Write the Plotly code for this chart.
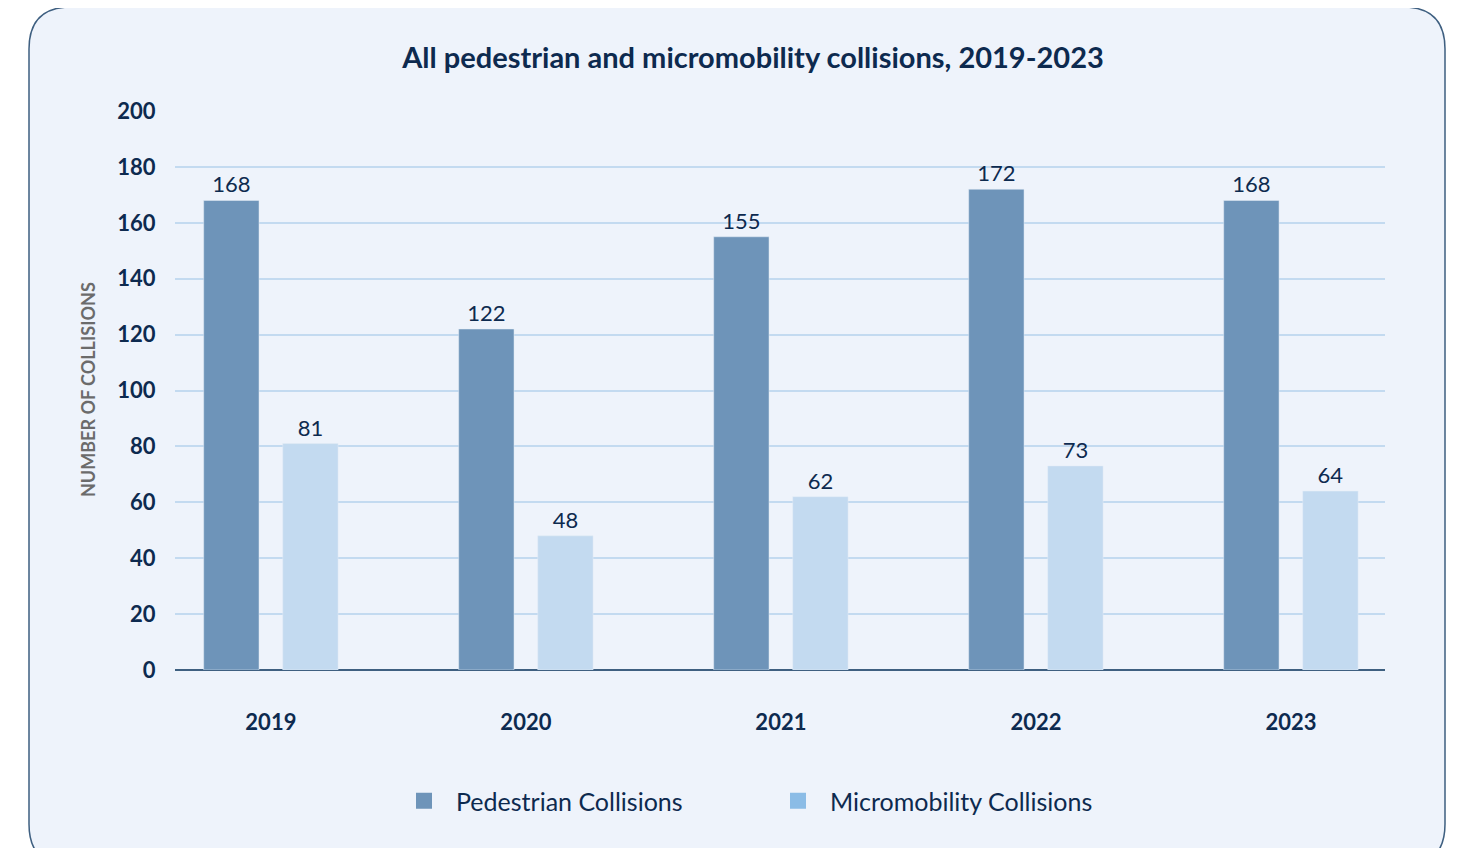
import plotly.graph_objects as go

years = ["2019", "2020", "2021", "2022", "2023"]
pedestrian = [168, 122, 155, 172, 168]
micromobility = [81, 48, 62, 73, 64]
y_ticks = [0, 20, 40, 60, 80, 100, 120, 140, 160, 180, 200]

NAVY = "#0D2A4F"
PED = "#6E94B9"
MICRO = "#C3DAF0"
MICRO_LEG = "#8BBCE6"
BG = "#EEF3FB"
FONT = "Lato"

OFF = 8  # page body margin
W, H = 1466 - 2 * OFF, 856 - 2 * OFF
# target plot area in screen pixels: x 175..1385, y 111..670
L = 175 - OFF
T = 111 - OFF
R = W - (1385 - OFF)
B = H - (670 - OFF)
pw, ph = W - L - R, H - T - B

def px(x):
    return (x - OFF - L) / pw

def py(y):
    return (670 - y) / ph

fig = go.Figure()
fig.add_trace(go.Bar(x=years, y=pedestrian, name="Pedestrian Collisions",
                     marker_color=PED, text=pedestrian, textposition="outside",
                     textfont=dict(size=22, color=NAVY, family=FONT),
                     cliponaxis=False, showlegend=False))
fig.add_trace(go.Bar(x=years, y=micromobility, name="Micromobility Collisions",
                     marker_color=MICRO, text=micromobility, textposition="outside",
                     textfont=dict(size=22, color=NAVY, family=FONT),
                     cliponaxis=False, showlegend=False))
# legend entries
fig.add_trace(go.Scatter(x=[None], y=[None], mode="markers", name="Pedestrian Collisions",
                         marker=dict(symbol="square", size=20, color=PED)))
fig.add_trace(go.Scatter(x=[None], y=[None], mode="markers", name="Micromobility Collisions",
                         marker=dict(symbol="square", size=20, color=MICRO_LEG)))

# rounded panel
x0, x1 = px(29), px(1445)
y0, y1 = py(866), py(7)
rx, ry = 42 / pw, 42 / ph
path = (f"M {x0+rx},{y1} L {x1-rx},{y1} Q {x1},{y1} {x1},{y1-ry} "
        f"L {x1},{y0+ry} Q {x1},{y0} {x1-rx},{y0} L {x0+rx},{y0} "
        f"Q {x0},{y0} {x0},{y0+ry} L {x0},{y1-ry} Q {x0},{y1} {x0+rx},{y1} Z")
fig.add_shape(type="path", path=path, xref="paper", yref="paper",
              fillcolor=BG, line=dict(color="#3E5F80", width=1.5), layer="below")

fig.add_annotation(text="NUMBER OF COLLISIONS", xref="paper", yref="paper",
                   x=px(75), y=py(390), textangle=-90, showarrow=False,
                   font=dict(size=18, color="#6B6B6B", family=FONT, weight="bold"))

fig.update_layout(
    width=W, height=H,
    margin=dict(l=L, r=R, t=T, b=B),
    paper_bgcolor="white", plot_bgcolor="rgba(0,0,0,0)",
    title=dict(text="All pedestrian and micromobility collisions, 2019-2023",
               x=px(753), xanchor="center", xref="paper",
               y=1 - (58 - OFF) / H, yanchor="middle",
               font=dict(size=29, color=NAVY, family=FONT, weight="bold")),
    barmode="group", bargap=0.38, bargroupgap=0.3,
    font=dict(family=FONT, color=NAVY),
    legend=dict(orientation="h", x=px(766), xanchor="center", y=py(801), yanchor="middle",
                font=dict(size=25, color=NAVY, family=FONT), entrywidth=305,
                itemwidth=54, bgcolor="rgba(0,0,0,0)"),
    xaxis=dict(type="category", range=[-0.376, 4.369], showgrid=False,
               tickfont=dict(size=22, color=NAVY, family=FONT, weight="bold"),
               ticks="outside", ticklen=33, tickcolor="rgba(0,0,0,0)",
               showline=False, zeroline=False),
    yaxis=dict(range=[0, 200], tickvals=y_ticks, showgrid=True,
               gridcolor="#C3DAF0", gridwidth=1.5,
               zeroline=True, zerolinecolor="#3E5F80", zerolinewidth=1.5,
               tickfont=dict(size=22, color=NAVY, family=FONT, weight="bold"),
               ticks="outside", ticklen=14, tickcolor="rgba(0,0,0,0)"),
)

fig.write_html("out.html")
